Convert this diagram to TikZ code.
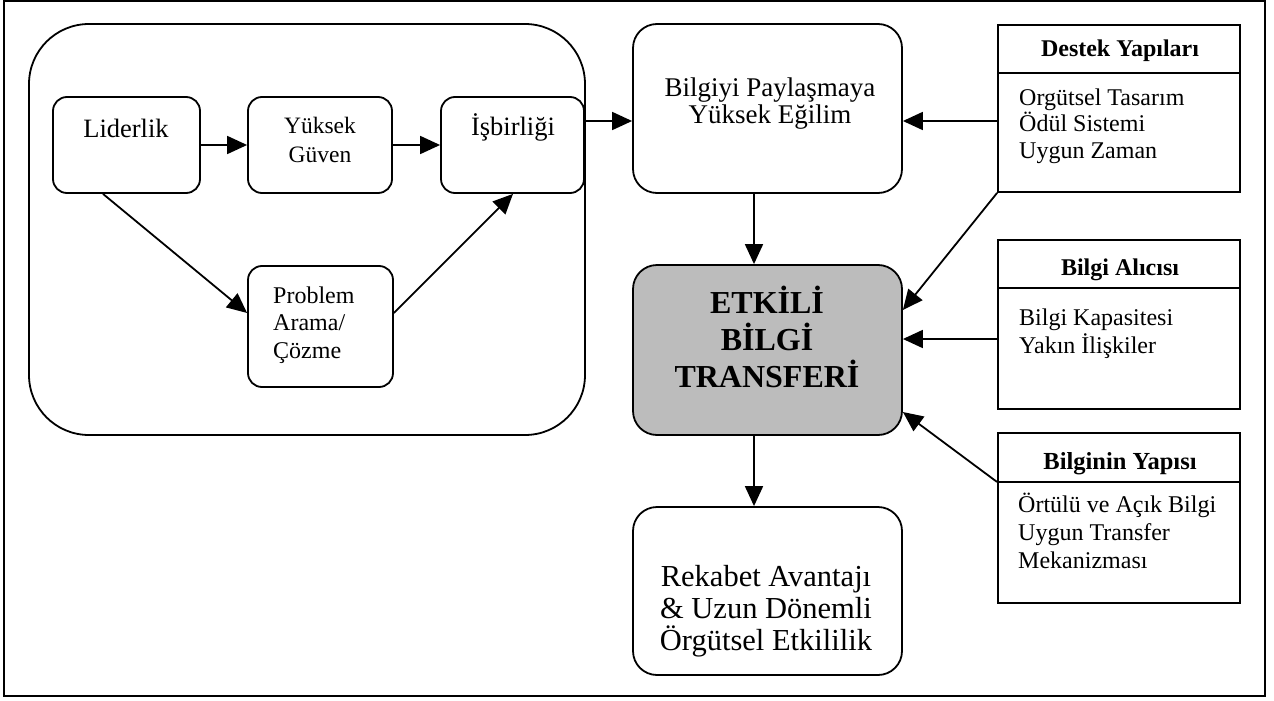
\documentclass[tikz,border=0pt]{standalone}
\usepackage{fontspec}
\setmainfont{Liberation Serif}
\usetikzlibrary{arrows.meta}
\begin{document}
\begin{tikzpicture}[x=1pt,y=-1pt,
  box/.style={draw, line width=1.8pt, inner sep=0pt, rounded corners=14pt},
  bigbox/.style={box, rounded corners=24pt},
  sqbox/.style={draw, line width=1.8pt, inner sep=0pt},
  arr/.style={line width=1.8pt, -{Triangle[length=20pt,width=18pt]}},
  txt/.style={inner sep=0pt, anchor=base},
  ltxt/.style={inner sep=0pt, anchor=base west, align=left},
]
\useasboundingbox (0,0) rectangle (1274,701);
\draw[line width=2pt] (4,1) rectangle (1265,696);

% left group
\node[box, rounded corners=60pt, minimum width=556pt, minimum height=411pt] (group) at (307,229.5) {};
\node[box, minimum width=147pt, minimum height=96pt] (lider) at (126.5,145) {};
\node[box, minimum width=144pt, minimum height=96pt] (guven) at (320,145) {};
\node[box, minimum width=143pt, minimum height=96pt] (isbir) at (512.5,145) {};
\node[box, minimum width=145pt, minimum height=121pt] (problem) at (320.5,326.5) {};

\node[txt, font=\fontsize{26.5}{27}\selectfont] (tlider) at (126,137) {Liderlik};
\node[txt, align=center, font=\fontsize{23.5}{29}\selectfont] (tguven) at (320,162) {Yüksek\\Güven};
\node[txt, font=\fontsize{26.5}{27}\selectfont] (tisbir) at (513,135) {İşbirliği};
\node[ltxt, font=\fontsize{24}{27.5}\selectfont] (tproblem) at (273,358) {Problem\\Arama/\\Çözme};

% middle column
\node[bigbox, minimum width=269pt, minimum height=169pt] (bilgiyi) at (767.5,108.5) {};
\node[bigbox, minimum width=269pt, minimum height=170pt, fill={rgb,255:red,188;green,188;blue,188}] (etkili) at (767.5,350) {};
\node[bigbox, minimum width=269pt, minimum height=168pt] (rekabet) at (767.5,591) {};

\node[txt, align=center, font=\fontsize{27}{27.5}\selectfont] (tbilgiyi) at (770,123.5) {Bilgiyi Paylaşmaya\\Yüksek Eğilim};
\node[txt, align=center, font=\fontsize{32}{37}\selectfont\bfseries] (tetkili) at (767,387) {ETKİLİ\\BİLGİ\\TRANSFERİ};
\node[txt, align=center, font=\fontsize{30.5}{32}\selectfont] (trekabet) at (766,650) {Rekabet Avantajı\\\& Uzun Dönemli\\Örgütsel Etkililik};

% right column
\node[sqbox, minimum width=242pt, minimum height=167pt] (destek) at (1119,108.5) {};
\node[sqbox, minimum width=242pt, minimum height=169pt] (alici) at (1119,324.5) {};
\node[sqbox, minimum width=242pt, minimum height=170pt] (yapi) at (1119,518) {};
\coordinate (s1) at (0,73);
\coordinate (s2) at (0,288);
\coordinate (s3) at (0,482);
\draw[line width=1.8pt] (destek.west |- s1) -- (destek.east |- s1);
\draw[line width=1.8pt] (alici.west |- s2) -- (alici.east |- s2);
\draw[line width=1.8pt] (yapi.west |- s3) -- (yapi.east |- s3);

\node[txt, font=\fontsize{24}{26.5}\selectfont\bfseries] (hdestek) at (1120,57) {Destek Yapıları};
\node[ltxt, font=\fontsize{24}{26.5}\selectfont] (bdestek) at (1019,158) {Orgütsel Tasarım\\Ödül Sistemi\\Uygun Zaman};
\node[txt, font=\fontsize{24}{26.5}\selectfont\bfseries] (halici) at (1120,275) {Bilgi Alıcısı};
\node[ltxt, font=\fontsize{24}{28}\selectfont] (balici) at (1019,353) {Bilgi Kapasitesi\\Yakın İlişkiler};
\node[txt, font=\fontsize{24.5}{26.5}\selectfont\bfseries] (hyapi) at (1120,469) {Bilginin Yapısı};
\node[ltxt, font=\fontsize{24}{28}\selectfont] (byapi) at (1018,568) {Örtülü ve Açık Bilgi\\Uygun Transfer\\Mekanizması};

% connectors
\coordinate (r1) at (0,121);
\coordinate (r2) at (0,339);
\draw[arr] (lider.east) -- (guven.west);
\draw[arr] (guven.east) -- (isbir.west);
\draw[arr] ([xshift=-23.5pt]lider.south) -- ([yshift=13.5pt]problem.west);
\draw[arr] ([yshift=13.5pt]problem.east) -- ([xshift=0.5pt]isbir.south);
\draw[arr] (group.east |- r1) -- (bilgiyi.west |- r1);
\draw[arr] (destek.west |- r1) -- (bilgiyi.east |- r1);
\draw[arr] ([xshift=-13.5pt]bilgiyi.south) -- ([xshift=-13.5pt]etkili.north);
\draw[arr] (destek.south west) -- ([yshift=40pt]etkili.east);
\draw[arr] (alici.west |- r2) -- (etkili.east |- r2);
\draw[arr] (yapi.west |- s3) -- ([yshift=-62pt]etkili.east);
\draw[arr] ([xshift=-13.5pt]etkili.south) -- ([xshift=-13.5pt]rekabet.north);
\end{tikzpicture}
\end{document}
